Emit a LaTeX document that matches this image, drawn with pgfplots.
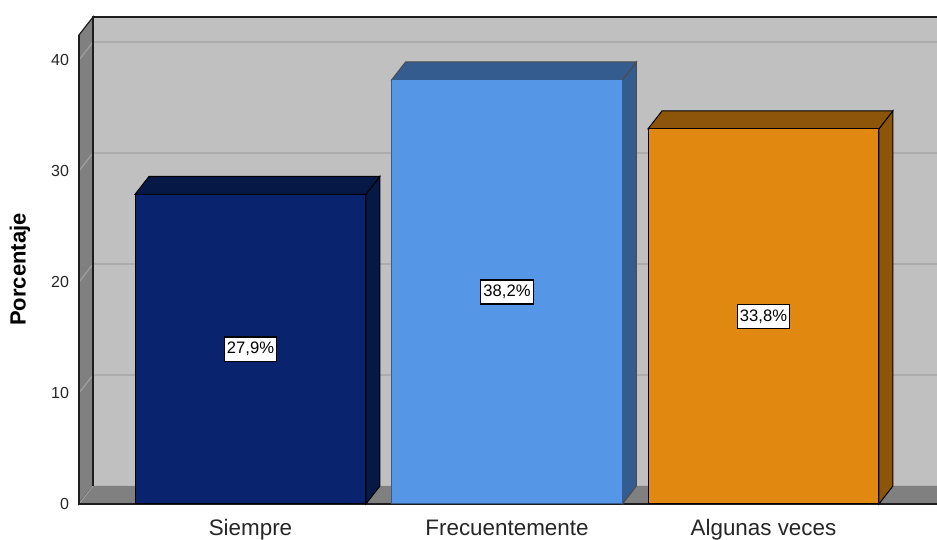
\documentclass[border=0pt]{standalone}
\usepackage{pgfplots}
\pgfplotsset{compat=1.18}
\usepackage{fontspec}
\setmainfont{Liberation Sans}
\definecolor{wallback}{HTML}{C0C0C0}
\definecolor{wallside}{HTML}{808080}
\definecolor{gridc}{HTML}{ACACAC}
\definecolor{gridside}{HTML}{A0A0A0}
\definecolor{framec}{HTML}{1E1E1E}
\definecolor{c1}{HTML}{0A236E}
\definecolor{c1d}{HTML}{061845}
\definecolor{c2}{HTML}{5596E6}
\definecolor{c2d}{HTML}{345C8F}
\definecolor{c3}{HTML}{E0880F}
\definecolor{c3d}{HTML}{8C550A}
\begin{document}
\begin{tikzpicture}
\begin{axis}[
  x=128.25pt, y=5.55pt,
  xmin=-0.6686, xmax=2.6764, ymin=0, ymax=42.25,
  clip=false,
  axis x line*=bottom, axis y line*=left,
  axis line style={draw=none},
  tick style={draw=none},
  xtick={0,1,2},
  xticklabels={Siempre,Frecuentemente,Algunas veces},
  ytick={0,10,20,30,40},
  /pgf/number format/assume math mode=true,
  yticklabel style={font=\fontsize{8}{9}\selectfont, text=black!85, xshift=-1.5pt},
  xticklabel style={font=\fontsize{11.2}{13}\selectfont, text=black!85, yshift=-4.3pt},
  ylabel={Porcentaje},
  ylabel style={at={(axis description cs:-0.0688,0.5)}, anchor=center, font=\bfseries\fontsize{11}{13}\selectfont, text=black},
]
% back wall
\addplot[fill=wallback, draw=none] coordinates {(-0.614,1.6216) (2.95,1.6216) (2.95,43.87) (-0.614,43.87)} -- cycle;
% back gridlines
\addplot[gridc, line width=0.7pt] coordinates {(-0.614,11.6216) (2.95,11.6216)};
\addplot[gridc, line width=0.7pt] coordinates {(-0.614,21.6216) (2.95,21.6216)};
\addplot[gridc, line width=0.7pt] coordinates {(-0.614,31.6216) (2.95,31.6216)};
\addplot[gridc, line width=0.7pt] coordinates {(-0.614,41.6216) (2.95,41.6216)};
% left wall
\addplot[fill=wallside, draw=framec, line width=0.6pt] coordinates {(-0.6686,0) (-0.6686,42.25) (-0.614,43.87) (-0.614,1.6216)} -- cycle;
\addplot[gridside, line width=0.6pt] coordinates {(-0.6686,10) (-0.614,11.6216)};
\addplot[gridside, line width=0.6pt] coordinates {(-0.6686,20) (-0.614,21.6216)};
\addplot[gridside, line width=0.6pt] coordinates {(-0.6686,30) (-0.614,31.6216)};
\addplot[gridside, line width=0.6pt] coordinates {(-0.6686,40) (-0.614,41.6216)};
% floor
\addplot[fill=wallside, draw=none] coordinates {(-0.6686,0) (2.95,0) (3.0046,1.6216) (-0.614,1.6216)} -- cycle;
\addplot[gridside, line width=0.5pt] coordinates {(-0.6686,0) (-0.614,1.6216)};
% frame lines
\addplot[framec, line width=0.7pt] coordinates {(-0.614,1.6216) (-0.614,43.87) (2.95,43.87)};
\addplot[framec, line width=0.7pt] coordinates {(-0.6686,42.25) (-0.6686,0) (2.95,0)};
% bar 1 (Siempre)
\addplot[fill=c1d, draw=black, line width=0.5pt] coordinates {(0.45,0) (0.5046,1.6216) (0.5046,29.5216) (0.45,27.9)} -- cycle;
\addplot[fill=c1d, draw=black, line width=0.5pt] coordinates {(-0.45,27.9) (0.45,27.9) (0.5046,29.5216) (-0.3954,29.5216)} -- cycle;
\addplot[ybar, bar width=0.9, bar shift=0pt, fill=c1, draw=black, line width=0.5pt] coordinates {(0,27.9)};
% bar 2 (Frecuentemente)
\addplot[fill=c2d, draw=black!70, line width=0.5pt] coordinates {(1.45,0) (1.5046,1.6216) (1.5046,39.8216) (1.45,38.2)} -- cycle;
\addplot[fill=c2d, draw=black!70, line width=0.5pt] coordinates {(0.55,38.2) (1.45,38.2) (1.5046,39.8216) (0.6046,39.8216)} -- cycle;
\addplot[ybar, bar width=0.9, bar shift=0pt, fill=c2, draw=c2d, line width=0.5pt] coordinates {(1,38.2)};
% bar 3 (Algunas veces)
\addplot[fill=c3d, draw=black, line width=0.5pt] coordinates {(2.45,0) (2.5046,1.6216) (2.5046,35.4216) (2.45,33.8)} -- cycle;
\addplot[fill=c3d, draw=black, line width=0.5pt] coordinates {(1.55,33.8) (2.45,33.8) (2.5046,35.4216) (1.6046,35.4216)} -- cycle;
\addplot[ybar, bar width=0.9, bar shift=0pt, fill=c3, draw=black, line width=0.5pt] coordinates {(2,33.8)};
% value labels
\addplot[draw=none, mark=none, nodes near coords, point meta=explicit symbolic,
  nodes near coords align=center,
  every node near coord/.append style={anchor=center, fill=white, draw=black, line width=0.6pt, inner xsep=1.3pt, inner ysep=2.6pt, font=\fontsize{8.3}{9}\selectfont, text=black}]
  coordinates {(0,13.95) [27,9\%] (1,19.1) [38,2\%] (2,16.9) [33,8\%]};
\coordinate (bbll) at (axis cs:-0.9766,-3.243);
\coordinate (bbur) at (axis cs:2.6764,45.405);
\end{axis}
\pgfresetboundingbox
\useasboundingbox (bbll) rectangle (bbur);
\end{tikzpicture}
\end{document}
